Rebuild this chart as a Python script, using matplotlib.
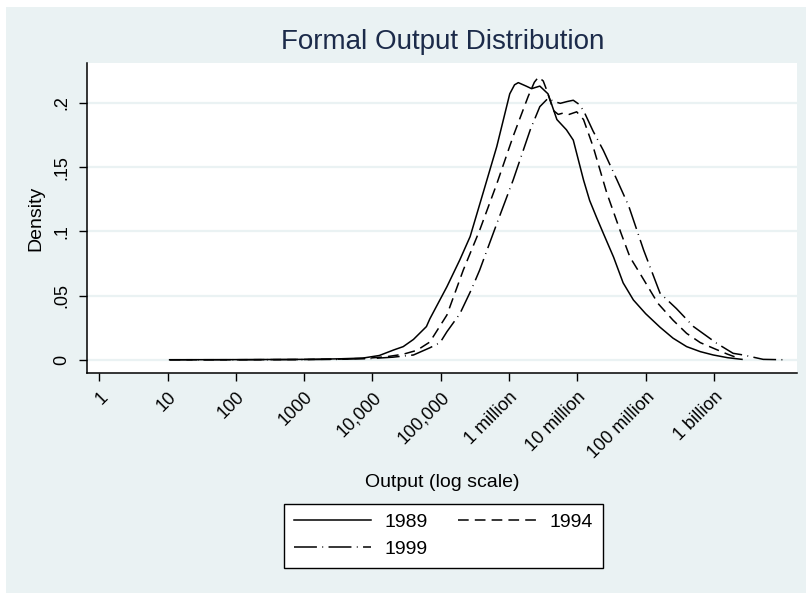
import matplotlib
matplotlib.use('Agg')
import matplotlib.pyplot as plt
import numpy as np
from matplotlib.patches import Rectangle

plt.rcParams['font.family'] = ['Liberation Sans', 'DejaVu Sans']

BG = '#eaf2f3'
TITLE_COLOR = '#1c2b4a'

# kernel density of output, x given as log10(output)
log_1989 = [1.03, 2.0, 3.0, 3.5, 3.86, 4.1, 4.31, 4.45, 4.6, 4.79, 4.84, 5.09,
            5.28, 5.43, 5.62, 5.82, 6.01, 6.08, 6.135, 6.25, 6.33, 6.45, 6.57,
            6.70, 6.84, 6.94, 7.09, 7.18, 7.28, 7.38, 7.53, 7.67, 7.82, 8.0,
            8.21, 8.4, 8.6, 8.8, 8.99, 9.2, 9.41]
dens_1989 = [0.0002, 0.0003, 0.0005, 0.0009, 0.0015, 0.0035, 0.0078, 0.0104,
             0.016, 0.026, 0.032, 0.057, 0.078, 0.096, 0.130, 0.166, 0.207,
             0.214, 0.2157, 0.213, 0.211, 0.213, 0.207, 0.187, 0.179, 0.171,
             0.140, 0.124, 0.111, 0.0985, 0.080, 0.060, 0.0467, 0.036, 0.0255,
             0.017, 0.0104, 0.0065, 0.0039, 0.0018, 0.0005]

log_1994 = [1.03, 2.0, 3.0, 3.5, 3.9, 4.2, 4.45, 4.65, 4.84, 5.09, 5.33, 5.57,
            5.82, 6.06, 6.28, 6.37, 6.43, 6.5, 6.55, 6.65, 6.72, 6.79, 6.88,
            6.99, 7.09, 7.23, 7.43, 7.64, 7.77, 7.92, 8.18, 8.4, 8.6, 8.8,
            9.02, 9.2, 9.38]
dens_1994 = [0.0002, 0.0002, 0.0004, 0.0007, 0.0013, 0.0025, 0.0045, 0.0075,
             0.014, 0.035, 0.070, 0.101, 0.137, 0.174, 0.205, 0.216, 0.220,
             0.217, 0.210, 0.194, 0.191, 0.192, 0.191, 0.193, 0.187, 0.166,
             0.130, 0.0985, 0.080, 0.067, 0.044, 0.031, 0.0207, 0.0135,
             0.0085, 0.0045, 0.001]

log_1999 = [1.03, 2.0, 3.0, 3.5, 4.0, 4.3, 4.6, 4.84, 4.99, 5.09, 5.28, 5.45,
            5.57, 5.82, 6.06, 6.31, 6.45, 6.57, 6.66, 6.75, 6.85, 6.94, 7.02,
            7.09, 7.23, 7.38, 7.58, 7.75, 7.97, 8.21, 8.45, 8.7, 9.04, 9.28,
            9.43, 9.72, 10.01]
dens_1999 = [0.0002, 0.0002, 0.0003, 0.0005, 0.0012, 0.0022, 0.0039, 0.0095,
             0.0135, 0.022, 0.036, 0.055, 0.070, 0.106, 0.140, 0.179, 0.197,
             0.2035, 0.201, 0.1996, 0.201, 0.202, 0.199, 0.194, 0.178, 0.163,
             0.140, 0.120, 0.0855, 0.052, 0.040, 0.026, 0.013, 0.0052, 0.0039,
             0.0005, 0.0002]

xtick_vals = [1, 10, 100, 1000, 1e4, 1e5, 1e6, 1e7, 1e8, 1e9]
xtick_labels = ['1', '10', '100', '1000', '10,000', '100,000', '1 million',
                '10 million', '100 million', '1 billion']
ytick_vals = [0, 0.05, 0.1, 0.15, 0.2]
ytick_labels = ['0', '.05', '.1', '.15', '.2']

W, H = 806, 593
fig = plt.figure(figsize=(W / 100, H / 100), dpi=100)
fig.patch.set_facecolor('white')
fig.add_artist(Rectangle((6 / W, 0), 1 - 6 / W, 1 - 7 / H,
                         transform=fig.transFigure, facecolor=BG,
                         edgecolor='none', zorder=-10))

ax = fig.add_axes([86.7 / W, 1 - 373.3 / H, (797.3 - 86.7) / W, (373.3 - 62.7) / H])
ax.set_facecolor('white')

l1, = ax.plot(10 ** np.array(log_1989), dens_1989, color='black', lw=1.1,
              linestyle='-')
l2, = ax.plot(10 ** np.array(log_1994), dens_1994, color='black', lw=1.1,
              dashes=(7, 4))
l3, = ax.plot(10 ** np.array(log_1999), dens_1999, color='black', lw=1.1,
              dashes=(15, 3.5, 0.6, 3.5))

ax.set_xscale('log')
ax.set_xlim(10 ** -0.184, 10 ** 10.22)
ax.set_ylim(-0.01034, 0.2312)

ax.set_xticks(xtick_vals)
ax.set_xticklabels(xtick_labels, rotation=45, ha='right', va='top',
                   rotation_mode='anchor', fontsize=13)
ax.xaxis.set_minor_locator(matplotlib.ticker.NullLocator())
ax.set_yticks(ytick_vals)
ax.set_yticklabels(ytick_labels, rotation=90, va='center', fontsize=13)

ax.tick_params(axis='both', length=6, width=1, color='black', direction='out')
ax.tick_params(axis='y', pad=6)
ax.tick_params(axis='x', pad=5)

for side in ['top', 'right']:
    ax.spines[side].set_visible(False)
for side in ['left', 'bottom']:
    ax.spines[side].set_linewidth(1.1)

ax.grid(axis='y', color=BG, lw=1.6)
ax.set_axisbelow(True)

ax.set_ylabel('Density', fontsize=14, labelpad=6)
ax.set_xlabel('Output (log scale)', fontsize=14, labelpad=9)

fig.text(443 / W, 1 - 42 / H, 'Formal Output Distribution', fontsize=20,
         color=TITLE_COLOR, ha='center', va='center')

leg = fig.legend([l1, l3, l2], ['1989', '1999', '1994'], ncol=2,
                 loc='center', bbox_to_anchor=(443.3 / W, 1 - 535.7 / H),
                 fontsize=14, handlelength=4.0, columnspacing=1.55,
                 handletextpad=0.7, borderpad=0.5, labelspacing=0.5,
                 fancybox=False, frameon=True, framealpha=1.0)
leg.get_frame().set_edgecolor('black')
leg.get_frame().set_linewidth(1.0)
leg.get_frame().set_facecolor('white')

fig.savefig('out.png', dpi=100, facecolor=fig.get_facecolor())
